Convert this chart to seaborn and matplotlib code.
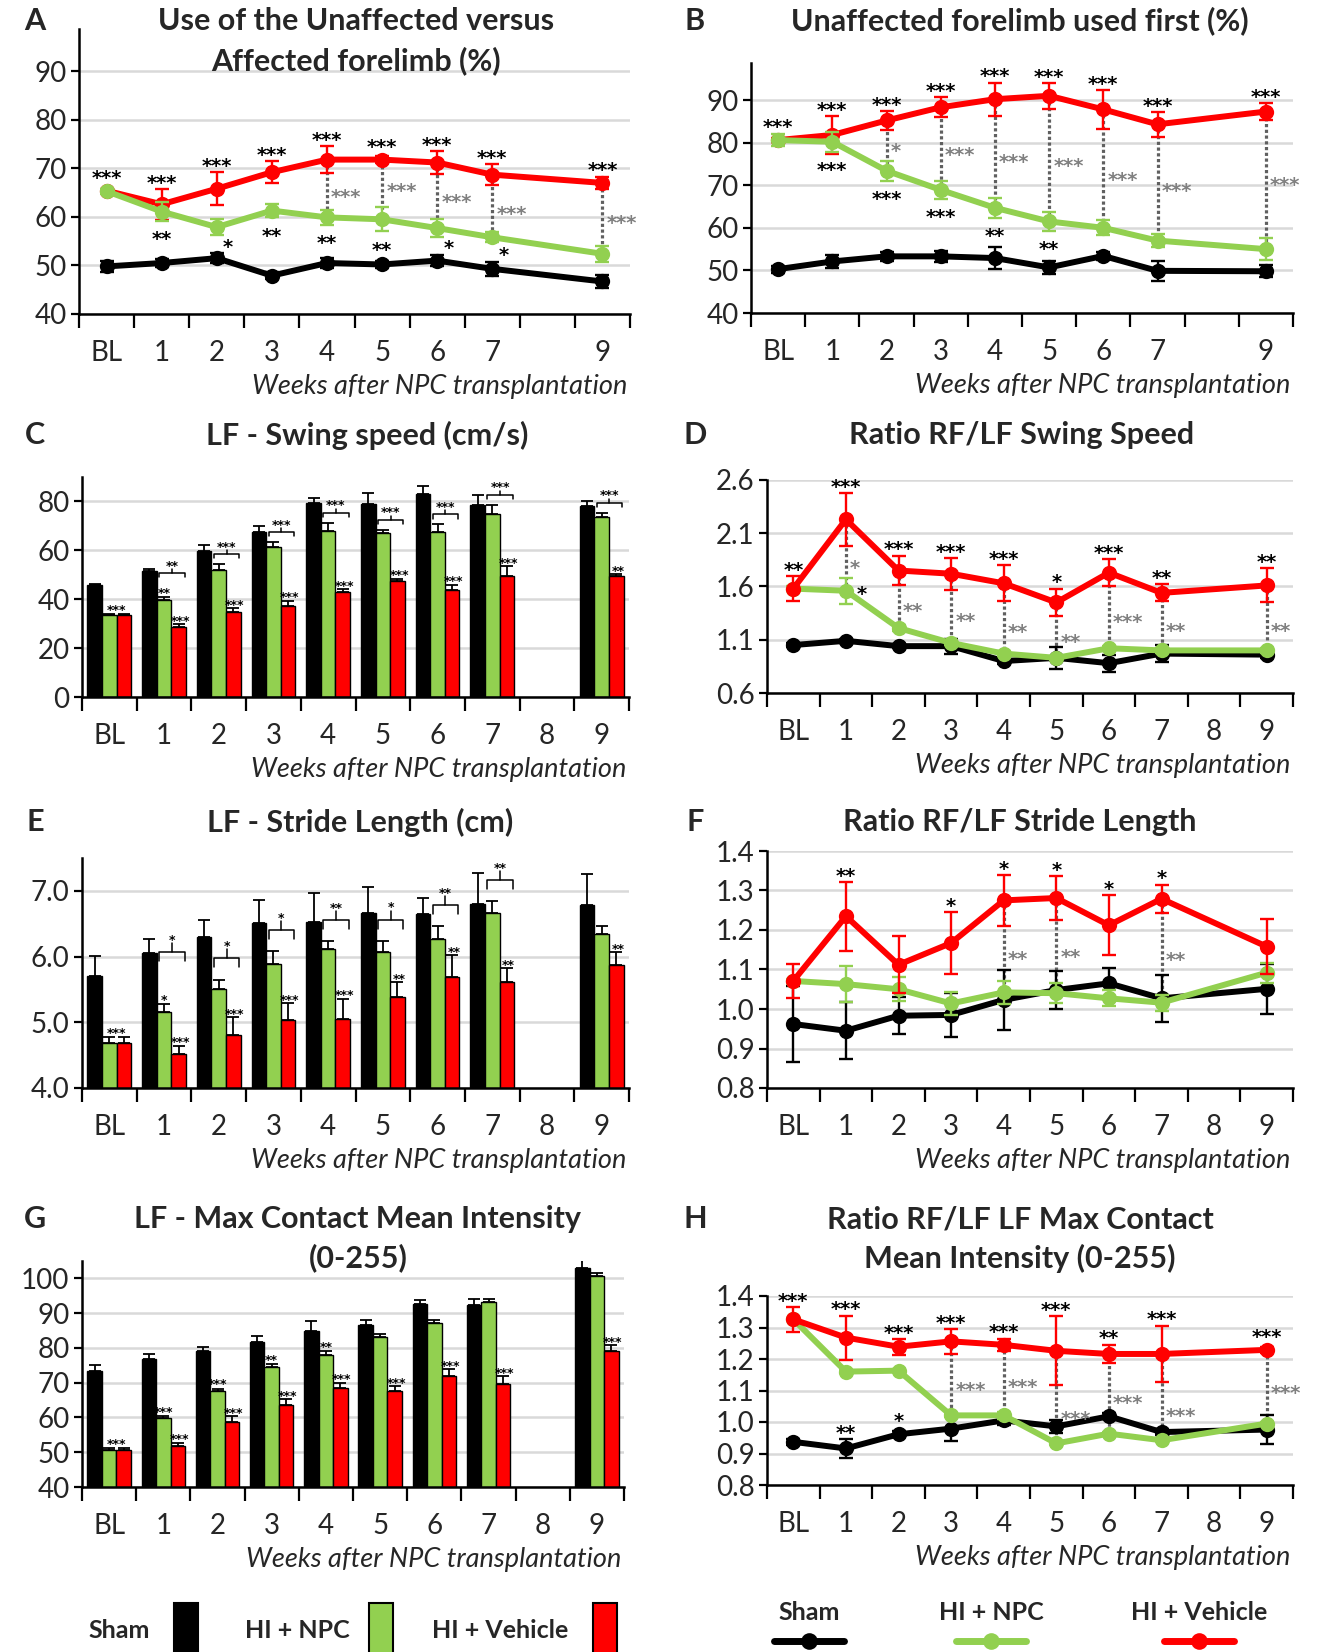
import numpy as np
import pandas as pd
import matplotlib
matplotlib.use('Agg')
import matplotlib.pyplot as plt
from matplotlib.patches import Rectangle
from matplotlib.lines import Line2D
import seaborn as sns

nan = np.nan
weeks = ['BL', '1', '2', '3', '4', '5', '6', '7', '8', '9']
groups = ['Sham', 'HI + NPC', 'HI + Vehicle']
palette = {'Sham': '#000000', 'HI + NPC': '#92D050', 'HI + Vehicle': '#FF0000'}
xlab = 'Weeks after NPC transplantation'

# A - use of unaffected vs affected forelimb (%)
a_sham = [49.8, 50.5, 51.5, 47.9, 50.5, 50.2, 51.0, 49.3, nan, 46.7]
a_sham_err = [1.2, 0.8, 1.0, 0.7, 1.0, 0.8, 1.2, 1.5, nan, 1.3]
a_npc = [65.3, 61.1, 57.9, 61.3, 59.9, 59.5, 57.7, 55.8, nan, 52.4]
a_npc_err = [0.5, 2.0, 1.7, 1.3, 1.6, 2.5, 1.8, 1.0, nan, 1.7]
a_veh = [65.4, 62.6, 65.8, 69.2, 71.8, 71.8, 71.2, 68.7, nan, 67.0]
a_veh_err = [0.3, 3.2, 3.4, 2.3, 2.8, 0.7, 2.3, 2.1, nan, 1.2]
a_top = {0: '***', 1: '***', 2: '***', 3: '***', 4: '***', 5: '***', 6: '***', 7: '***', 9: '***'}
a_below = {1: '**', 2: '*', 3: '**', 4: '**', 5: '**', 6: '*', 7: '*'}
a_gray = {4: '***', 5: '***', 6: '***', 7: '***', 9: '***'}

# B - unaffected forelimb used first (%)
b_sham = [50.3, 52.1, 53.3, 53.3, 52.9, 50.7, 53.4, 49.9, nan, 49.8]
b_sham_err = [0.8, 1.5, 1.1, 1.3, 2.6, 1.5, 1.0, 2.3, nan, 1.4]
b_npc = [80.6, 80.2, 73.4, 68.9, 64.7, 61.5, 60.0, 57.0, nan, 55.0]
b_npc_err = [1.5, 2.3, 2.3, 2.1, 2.4, 2.2, 1.8, 1.6, nan, 2.5]
b_veh = [80.6, 81.8, 85.2, 88.3, 90.2, 91.0, 87.8, 84.3, nan, 87.3]
b_veh_err = [0.5, 4.5, 2.3, 2.3, 3.9, 3.0, 4.5, 2.9, nan, 1.9]
b_top = {0: '***', 1: '***', 2: '***', 3: '***', 4: '***', 5: '***', 6: '***', 7: '***', 9: '***'}
b_below = {1: '***', 2: '***', 3: '***', 4: '**', 5: '**'}
b_gray = {2: '*', 3: '***', 4: '***', 5: '***', 6: '***', 7: '***', 9: '***'}

# C - LF swing speed (cm/s)
c_sham = [45.9, 51.4, 59.7, 67.6, 79.5, 78.8, 83.1, 78.6, nan, 78.0]
c_sham_err = [0.4, 0.9, 2.4, 2.3, 2.0, 4.7, 3.4, 3.9, nan, 2.0]
c_npc = [33.4, 39.6, 51.8, 61.2, 68.0, 66.9, 67.6, 74.7, nan, 73.8]
c_npc_err = [0.5, 1.3, 2.6, 2.2, 3.3, 1.6, 3.1, 3.9, nan, 1.5]
c_veh = [33.4, 28.6, 34.9, 37.4, 43.0, 47.3, 43.9, 49.3, nan, 49.3]
c_veh_err = [0.5, 1.2, 1.4, 2.0, 1.2, 1.0, 2.1, 4.2, nan, 0.9]
c_pair = {0: '***'}
c_green = {1: '**'}
c_red = {1: '***', 2: '***', 3: '***', 4: '***', 5: '***', 6: '***', 7: '***', 9: '**'}
c_brk = {1: '**', 2: '***', 3: '***', 4: '***', 5: '***', 6: '***', 7: '***', 9: '***'}

# D - ratio RF/LF swing speed
d_sham = [1.05, 1.09, 1.04, 1.04, 0.90, 0.93, 0.88, 0.97, nan, 0.96]
d_sham_err = [0.02, 0.02, 0.02, 0.07, 0.03, 0.10, 0.08, 0.08, nan, 0.03]
d_npc = [1.58, 1.56, 1.21, 1.07, 0.97, 0.93, 1.02, 1.00, nan, 1.00]
d_npc_err = [0.02, 0.12, 0.03, 0.02, 0.02, 0.02, 0.02, 0.02, nan, 0.02]
d_veh = [1.58, 2.23, 1.75, 1.72, 1.63, 1.45, 1.73, 1.54, nan, 1.61]
d_veh_err = [0.12, 0.25, 0.14, 0.15, 0.17, 0.13, 0.13, 0.08, nan, 0.16]
d_top = {0: '**', 1: '***', 2: '***', 3: '***', 4: '***', 5: '*', 6: '***', 7: '**', 9: '**'}
d_beside = {1: '*'}
d_gray = {1: '*', 2: '**', 3: '**', 4: '**', 5: '**', 6: '***', 7: '**', 9: '**'}

# E - LF stride length (cm)
e_sham = [5.70, 6.05, 6.30, 6.51, 6.52, 6.67, 6.65, 6.80, nan, 6.78]
e_sham_err = [0.31, 0.21, 0.25, 0.35, 0.45, 0.39, 0.24, 0.47, nan, 0.47]
e_npc = [4.68, 5.15, 5.51, 5.89, 6.12, 6.07, 6.27, 6.66, nan, 6.34]
e_npc_err = [0.10, 0.13, 0.14, 0.19, 0.11, 0.17, 0.19, 0.18, nan, 0.13]
e_veh = [4.68, 4.51, 4.81, 5.03, 5.05, 5.38, 5.69, 5.61, nan, 5.87]
e_veh_err = [0.10, 0.13, 0.27, 0.26, 0.31, 0.23, 0.33, 0.21, nan, 0.20]
e_pair = {0: '***'}
e_green = {1: '*'}
e_red = {1: '***', 2: '***', 3: '***', 4: '***', 5: '**', 6: '**', 7: '**', 9: '**'}
e_brk = {1: '*', 2: '*', 3: '*', 4: '**', 5: '*', 6: '**', 7: '**'}

# F - ratio RF/LF stride length
f_sham = [0.962, 0.945, 0.983, 0.985, 1.023, 1.048, 1.065, 1.027, nan, 1.051]
f_sham_err = [0.095, 0.072, 0.047, 0.055, 0.075, 0.048, 0.040, 0.060, nan, 0.064]
f_npc = [1.071, 1.063, 1.050, 1.014, 1.042, 1.040, 1.027, 1.016, nan, 1.092]
f_npc_err = [0.005, 0.045, 0.030, 0.030, 0.030, 0.025, 0.020, 0.020, nan, 0.025]
f_veh = [1.071, 1.235, 1.112, 1.167, 1.275, 1.281, 1.212, 1.279, nan, 1.158]
f_veh_err = [0.043, 0.087, 0.072, 0.078, 0.065, 0.056, 0.076, 0.036, nan, 0.070]
f_top = {1: '**', 3: '*', 4: '*', 5: '*', 6: '*', 7: '*'}
f_gray = {4: '**', 5: '**', 7: '**'}

# G - LF max contact mean intensity (0-255)
g_sham = [73.4, 76.8, 79.0, 81.7, 84.9, 86.7, 92.5, 92.4, nan, 103.1]
g_sham_err = [1.8, 1.4, 1.2, 1.8, 2.8, 1.4, 1.4, 1.8, nan, 2.2]
g_npc = [50.6, 59.8, 67.7, 74.4, 78.0, 83.1, 87.1, 93.2, nan, 100.6]
g_npc_err = [0.7, 0.7, 0.6, 0.9, 1.0, 0.9, 1.0, 0.9, nan, 1.0]
g_veh = [50.6, 51.7, 58.6, 63.7, 68.6, 67.7, 71.8, 69.5, nan, 79.0]
g_veh_err = [0.7, 1.0, 1.8, 1.6, 1.4, 1.3, 2.0, 2.4, nan, 1.8]
g_pair = {0: '***'}
g_green = {1: '***', 2: '***', 3: '**', 4: '**'}
g_red = {1: '***', 2: '***', 3: '***', 4: '***', 5: '***', 6: '***', 7: '***', 9: '***'}
g_brk = {}

# H - ratio RF/LF max contact mean intensity
h_sham = [0.937, 0.916, 0.961, 0.979, 1.005, 0.986, 1.018, 0.968, nan, 0.976]
h_sham_err = [0.010, 0.030, 0.010, 0.040, 0.015, 0.020, 0.010, 0.010, nan, 0.045]
h_npc = [1.326, 1.160, 1.163, 1.021, 1.021, 0.932, 0.963, 0.942, nan, 0.995]
h_npc_err = [0.005, 0.005, 0.005, 0.005, 0.010, 0.005, 0.005, 0.005, nan, 0.005]
h_veh = [1.326, 1.268, 1.239, 1.256, 1.245, 1.226, 1.216, 1.216, nan, 1.229]
h_veh_err = [0.040, 0.070, 0.025, 0.040, 0.020, 0.110, 0.030, 0.090, nan, 0.010]
h_top = {0: '***', 1: '***', 2: '***', 3: '***', 4: '***', 5: '***', 6: '**', 7: '***', 9: '***'}
h_black = {1: '**', 2: '*'}
h_gray = {3: '***', 4: '***', 5: '***', 6: '***', 7: '***', 9: '***'}

sns.set_theme(style='white')
plt.rcParams['font.family'] = ['Lato', 'DejaVu Sans']

W, H = 1344, 1652
fig = plt.figure(figsize=(W / 100, H / 100), dpi=100)
TICK = 20
STAR = 14


def box(x0, x1, y0, y1):
    return [x0 / W, 1 - y1 / H, (x1 - x0) / W, (y1 - y0) / H]


def px(x, y):
    return x / W, 1 - y / H


def frame(ax, ylim, yticks, fmt, show8=True):
    ax.set_xlim(-0.5, 9.5)
    ax.set_ylim(*ylim)
    ax.set_yticks(yticks)
    ax.set_yticklabels([fmt.format(v) for v in yticks])
    ax.set_xticks(range(10))
    ax.set_xticklabels([w if (show8 or w != '8') else '' for w in weeks])
    ax.set_xticks(np.arange(-0.5, 10, 1), minor=True)
    ax.tick_params(axis='x', which='major', bottom=True, length=0, pad=19, labelsize=TICK)
    ax.tick_params(axis='x', which='minor', bottom=True, length=10, width=1.6, color='black')
    ax.tick_params(axis='y', left=True, length=6, width=1.6, color='black', labelsize=TICK, pad=3)
    ax.grid(False)
    ax.grid(axis='y', color='#D9D9D9', lw=1.8)
    ax.set_axisbelow(True)
    for s in ['top', 'right']:
        ax.spines[s].set_visible(False)
    for s in ['left', 'bottom']:
        ax.spines[s].set_color('black')
        ax.spines[s].set_linewidth(1.8)
    ax.set_xlabel('')
    ax.set_ylabel('')
    ax.annotate(xlab, xy=(1, 0), xycoords='axes fraction', xytext=(-2, -52),
                textcoords='offset points', ha='right', va='center',
                fontsize=19.5, style='italic')


def pts_per_unit(ax):
    lo, hi = ax.get_ylim()
    return ax.get_position().height * H * 0.72 / (hi - lo)


def star(ax, x, y, s, dx=0, dy=0, color='black', size=STAR, ha='center'):
    # dy = where the centre of the asterisks goes (points)
    ax.annotate(s, (x, y), xytext=(dx, dy - 0.6 * size), textcoords='offset points',
                ha=ha, va='baseline', color=color, fontsize=size, family='DejaVu Sans',
                fontweight='bold', annotation_clip=False)


def line_panel(ax, data, order, top=None, below=None, gray=None, beside=None, black=None):
    k = pts_per_unit(ax)
    for z, g in enumerate(order):
        v, e = data[g]
        df = pd.DataFrame({'x': np.arange(10), 'y': v, 'e': e}).dropna()
        sns.lineplot(data=df, x='x', y='y', ax=ax, color=palette[g], lw=4.3, marker='o',
                     markersize=11, markeredgewidth=0, estimator=None, errorbar=None,
                     zorder=3 + z)
        ax.errorbar(df.x, df.y, yerr=df.e, fmt='none', ecolor=palette[g], elinewidth=1.7,
                    capsize=5, capthick=1.7, zorder=3 + z)
    rv, re = data['HI + Vehicle']
    gv, ge = data['HI + NPC']
    sv, se = data['Sham']
    for i, s in (gray or {}).items():
        ax.plot([i, i], [rv[i], gv[i]], ls=(0, (1, 0.8)), color='#606060', lw=2.3, zorder=2)
        ymid = ((rv[i] - re[i]) + (gv[i] + ge[i])) / 2
        star(ax, i, ymid, s, dx=3, color='#808080', ha='left')
    for i, s in (top or {}).items():
        star(ax, i, rv[i], s, dy=max(re[i] * k, 5) + 8.5)
    for i, s in (black or {}).items():
        star(ax, i, sv[i], s, dy=max(se[i] * k, 5) + 8.5)
    for i, s in (below or {}).items():
        if s == '*':
            star(ax, i, gv[i], s, dx=8, dy=-max(ge[i] * k, 5) - 4)
        else:
            star(ax, i, gv[i], s, dy=-max(ge[i] * k, 5) - 9)
    for i, s in (beside or {}).items():
        star(ax, i, gv[i], s, dx=8, dy=2, ha='left')
    ax.set_xlabel('')
    ax.set_ylabel('')


def bar_panel(ax, data, pair, green, red, brk):
    rows = []
    for g in groups:
        v, e = data[g]
        for i, w in enumerate(weeks):
            if not np.isnan(v[i]):
                rows.append((w, g, v[i], e[i]))
    df = pd.DataFrame(rows, columns=['week', 'group', 'value', 'err'])
    sns.barplot(data=df, x='week', y='value', hue='group', order=weeks, hue_order=groups,
                palette=palette, saturation=1, edgecolor='black', linewidth=1.0, width=0.8,
                errorbar=None, legend=False, ax=ax)
    bw = 0.8 / 3
    for j, g in enumerate(groups):
        v, e = np.array(data[g][0]), np.array(data[g][1])
        x = np.arange(10) + (j - 1) * bw
        m = ~np.isnan(v)
        ax.errorbar(x[m], v[m], yerr=[np.zeros(m.sum()), e[m]], fmt='none', ecolor='black',
                    elinewidth=1.3, capsize=4, capthick=1.3, zorder=3)
    k = pts_per_unit(ax)
    gv, ge = data['HI + NPC']
    rv, re = data['HI + Vehicle']
    sz = 9
    for i, s in pair.items():
        star(ax, i + bw / 2, max(gv[i] + ge[i], rv[i] + re[i]), s, dy=5.5, size=sz)
    for i, s in green.items():
        star(ax, i, gv[i] + ge[i], s, dy=5.5, size=sz)
    for i, s in red.items():
        star(ax, i + bw + 0.03, rv[i] + re[i], s, dy=5, size=sz)
    for i, s in brk.items():
        yb = gv[i] + ge[i] + (7 + (10 if i in green else 0)) / k
        t = 3 / k
        x0, x1 = i - 0.09, i + bw + 0.11
        xm = (x0 + x1) / 2
        ax.plot([x0, x0, x1, x1], [yb - t, yb, yb, yb - t], color='black', lw=1.1, zorder=4)
        ax.plot([xm, xm], [yb, yb + t], color='black', lw=1.1, zorder=4)
        star(ax, xm, yb + t, s, dy=5, size=sz)
    ax.set_xlabel('')
    ax.set_ylabel('')


def title(x, y, text, pitch=40):
    for n, line in enumerate(text.split('\n')):
        fig.text(*px(x, y + n * pitch), line, ha='center', va='center',
                 fontsize=22, fontweight='bold')


# panels
axA = fig.add_axes(box(79, 630, 29, 314))
frame(axA, (40, 98.7), [40, 50, 60, 70, 80, 90], '{:.0f}', show8=False)
line_panel(axA, {'Sham': (a_sham, a_sham_err), 'HI + NPC': (a_npc, a_npc_err),
                 'HI + Vehicle': (a_veh, a_veh_err)},
           ['Sham', 'HI + Vehicle', 'HI + NPC'], top=a_top, below=a_below, gray=a_gray)

axB = fig.add_axes(box(751, 1293, 63, 313))
frame(axB, (40, 98.7), [40, 50, 60, 70, 80, 90], '{:.0f}', show8=False)
line_panel(axB, {'Sham': (b_sham, b_sham_err), 'HI + NPC': (b_npc, b_npc_err),
                 'HI + Vehicle': (b_veh, b_veh_err)},
           ['Sham', 'HI + Vehicle', 'HI + NPC'], top=b_top, below=b_below, gray=b_gray)

axC = fig.add_axes(box(82, 629, 477, 697))
bar_panel(axC, {'Sham': (c_sham, c_sham_err), 'HI + NPC': (c_npc, c_npc_err),
                'HI + Vehicle': (c_veh, c_veh_err)}, c_pair, c_green, c_red, c_brk)
frame(axC, (0, 90), [0, 20, 40, 60, 80], '{:.0f}')

axD = fig.add_axes(box(767, 1293, 480, 693))
frame(axD, (0.6, 2.6), [0.6, 1.1, 1.6, 2.1, 2.6], '{:.1f}')
line_panel(axD, {'Sham': (d_sham, d_sham_err), 'HI + NPC': (d_npc, d_npc_err),
                 'HI + Vehicle': (d_veh, d_veh_err)},
           ['Sham', 'HI + NPC', 'HI + Vehicle'], top=d_top, gray=d_gray, beside=d_beside)

axE = fig.add_axes(box(82, 629, 858, 1088))
bar_panel(axE, {'Sham': (e_sham, e_sham_err), 'HI + NPC': (e_npc, e_npc_err),
                'HI + Vehicle': (e_veh, e_veh_err)}, e_pair, e_green, e_red, e_brk)
frame(axE, (4, 7.5), [4.0, 5.0, 6.0, 7.0], '{:.1f}')

axF = fig.add_axes(box(767, 1293, 851, 1088))
frame(axF, (0.8, 1.4), [0.8, 0.9, 1.0, 1.1, 1.2, 1.3, 1.4], '{:.1f}')
line_panel(axF, {'Sham': (f_sham, f_sham_err), 'HI + NPC': (f_npc, f_npc_err),
                 'HI + Vehicle': (f_veh, f_veh_err)},
           ['Sham', 'HI + NPC', 'HI + Vehicle'], top=f_top, gray=f_gray)

axG = fig.add_axes(box(82, 624, 1261, 1487))
bar_panel(axG, {'Sham': (g_sham, g_sham_err), 'HI + NPC': (g_npc, g_npc_err),
                'HI + Vehicle': (g_veh, g_veh_err)}, g_pair, g_green, g_red, g_brk)
frame(axG, (40, 105), [40, 50, 60, 70, 80, 90, 100], '{:.0f}')

axH = fig.add_axes(box(767, 1293, 1296, 1485))
frame(axH, (0.8, 1.4), [0.8, 0.9, 1.0, 1.1, 1.2, 1.3, 1.4], '{:.1f}')
line_panel(axH, {'Sham': (h_sham, h_sham_err), 'HI + NPC': (h_npc, h_npc_err),
                 'HI + Vehicle': (h_veh, h_veh_err)},
           ['Sham', 'HI + NPC', 'HI + Vehicle'], top=h_top, gray=h_gray, black=h_black)

# titles and panel letters
title(356, 21, 'Use of the Unaffected versus\nAffected forelimb (%)')
title(1020, 21, 'Unaffected forelimb used first (%)')
title(367, 435, 'LF - Swing speed (cm/s)')
title(1022, 435, 'Ratio RF/LF Swing Speed')
title(360, 822, 'LF - Stride Length (cm)')
title(1020, 822, 'Ratio RF/LF Stride Length')
title(358, 1219, 'LF - Max Contact Mean Intensity\n(0-255)', pitch=39)
title(1020, 1219, 'Ratio RF/LF LF Max Contact\nMean Intensity (0-255)', pitch=39)
for letter, (x, y) in zip('ABCDEFGH', [(35, 21), (695, 21), (35, 435), (695, 435),
                                        (35, 822), (695, 822), (35, 1219), (695, 1219)]):
    fig.text(*px(x, y), letter, ha='center', va='center', fontsize=22, fontweight='bold')

# legends
for g, tx, rx in zip(groups, [119, 297, 500], [174, 369, 593]):
    fig.text(*px(tx, 1630), g, ha='center', va='center', fontsize=18, fontweight='bold')
    fig.add_artist(Rectangle(px(rx, 1660), 24 / W, 57 / H, transform=fig.transFigure,
                             facecolor=palette[g], edgecolor='black', lw=1.5))
for g, cx in zip(groups, [809, 991, 1199]):
    fig.text(*px(cx, 1612), g, ha='center', va='center', fontsize=18, fontweight='bold')
    x0, y0 = px(cx - 35, 1641)
    x1, _ = px(cx + 35, 1641)
    fig.add_artist(Line2D([x0, x1], [y0, y0], transform=fig.transFigure, color=palette[g],
                          lw=5, marker=None))
    fig.add_artist(Line2D([(x0 + x1) / 2], [y0], transform=fig.transFigure, color=palette[g],
                          marker='o', markersize=12, markeredgewidth=0))

fig.savefig('out.png', dpi=100)
